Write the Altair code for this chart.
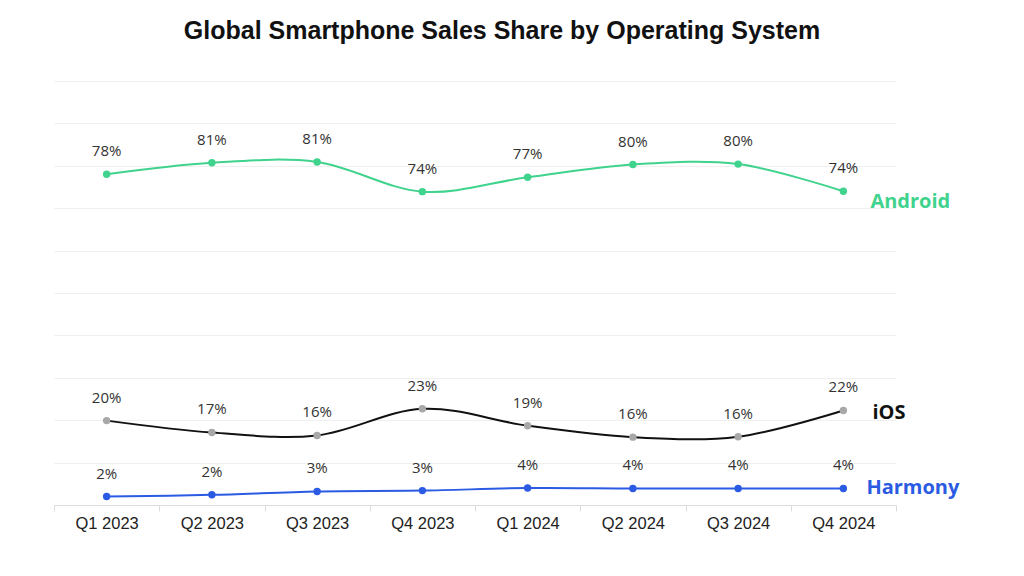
import altair as alt
import pandas as pd

quarters = ["Q1 2023", "Q2 2023", "Q3 2023", "Q4 2023", "Q1 2024", "Q2 2024", "Q3 2024", "Q4 2024"]
android = [78.0, 80.7, 80.9, 73.9, 77.3, 80.3, 80.4, 74.0]
ios = [19.9, 17.1, 16.4, 22.7, 18.7, 16.0, 16.1, 22.3]
harmony = [2.0, 2.4, 3.2, 3.4, 4.0, 3.9, 3.9, 3.9]
android_labels = ["78%", "81%", "81%", "74%", "77%", "80%", "80%", "74%"]
ios_labels = ["20%", "17%", "16%", "23%", "19%", "16%", "16%", "22%"]
harmony_labels = ["2%", "2%", "3%", "3%", "4%", "4%", "4%", "4%"]
series = ["Android", "iOS", "Harmony"]
line_colors = ["#3fd38d", "#111111", "#2b5be3"]
point_colors = ["#3fd38d", "#a8a8a8", "#2b5be3"]

rows = []
for name, vals, labs in [("Android", android, android_labels), ("iOS", ios, ios_labels), ("Harmony", harmony, harmony_labels)]:
    for q, v, l in zip(quarters, vals, labs):
        rows.append({"series": name, "pseries": name + " pt", "quarter": q, "value": v, "label": l})
df = pd.DataFrame(rows)

end_df = pd.DataFrame({
    "series": series,
    "quarter": [quarters[-1]] * 3,
    "value": [android[-1], ios[-1], harmony[-1]],
    "dy": [11, 3, 0],
    "dx": [27, 29, 23],
})

x = alt.X("quarter:N", sort=quarters,
          scale=alt.Scale(type="band", paddingInner=0, paddingOuter=0),
          axis=alt.Axis(title=None, labelAngle=0, tickBand="extent", domainColor="#dcdcdc",
                        tickColor="#dcdcdc", tickSize=6, labelFont="Liberation Sans",
                        labelFontSize=16.5, labelColor="#222222", labelPadding=4, grid=False))
y = alt.Y("value:Q", scale=alt.Scale(domain=[0, 100], nice=False),
          axis=alt.Axis(title=None, labels=False, ticks=False, domain=False, grid=True,
                        values=list(range(0, 101, 10)), gridColor="#efefef", gridWidth=1))

base = alt.Chart(df)
lines = base.mark_line(interpolate="cardinal", strokeWidth=2).encode(
    x=x, y=y,
    color=alt.Color("series:N", scale=alt.Scale(domain=series, range=line_colors), legend=None),
)
points = base.mark_point(filled=True, size=55, opacity=1).encode(
    x=alt.X("quarter:N", sort=quarters), y="value:Q",
    fill=alt.Fill("pseries:N", scale=alt.Scale(domain=[s + " pt" for s in series], range=point_colors), legend=None),
)
labels = base.mark_text(dy=-23, fontSize=15, font="Open Sans", color="#333333", baseline="middle").encode(
    x=alt.X("quarter:N", sort=quarters), y="value:Q", text="label:N",
)

end_labels = []
for i, s in enumerate(series):
    sub = end_df[end_df.series == s]
    end_labels.append(
        alt.Chart(sub).mark_text(align="left", baseline="middle", fontSize=20, fontWeight="bold",
                                 font="Open Sans", dx=int(sub.dx.iloc[0]), dy=int(sub.dy.iloc[0]),
                                 color=line_colors[i]).encode(
            x=alt.X("quarter:N", sort=quarters), y="value:Q", text="series:N")
    )

chart = alt.layer(lines, points, labels, *end_labels).properties(
    width=842, height=424,
    title=alt.TitleParams("Global Smartphone Sales Share by Operating System", font="Liberation Sans",
                          fontSize=25, fontWeight="bold", color="#111111", anchor="middle",
                          offset=37, dx=27),
    padding={"left": 45, "top": 11, "right": 10, "bottom": 10},
).configure_view(stroke=None)

chart.save("out.html", embed_options={"renderer": "svg", "actions": False})
